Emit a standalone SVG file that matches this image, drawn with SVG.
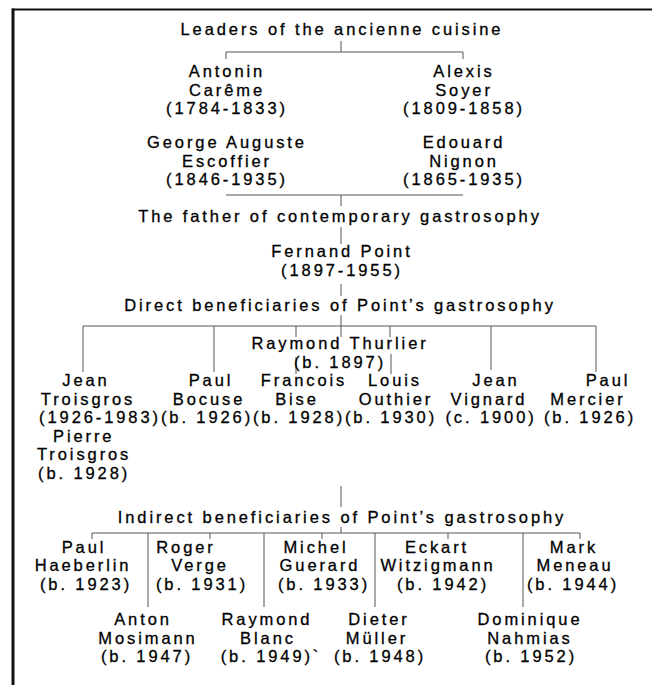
<svg xmlns="http://www.w3.org/2000/svg" width="652" height="685" viewBox="0 0 652 685">
<style>
text{font-family:"Liberation Sans",Arial,sans-serif;font-size:16.5px;fill:#000;stroke:#000;stroke-width:0.3px;letter-spacing:2.9px;text-anchor:middle}
.l{text-anchor:start}
.c line{stroke:#555;stroke-width:1}
</style>
<rect width="652" height="685" fill="#fff"/>
<g id="frame">
<line x1="12" y1="9.5" x2="652" y2="9.5" stroke="#111" stroke-width="2"/>
<line x1="13" y1="8.5" x2="13" y2="685" stroke="#111" stroke-width="3"/>
</g>
<g class="c" id="connectors">
<line x1="341" y1="41" x2="341" y2="52"/>
<line x1="226" y1="52" x2="463" y2="52"/>
<line x1="226" y1="52" x2="226" y2="59"/>
<line x1="463" y1="52" x2="463" y2="59"/>
<line x1="226" y1="195" x2="463" y2="195"/>
<line x1="341" y1="195" x2="341" y2="206"/>
<line x1="341" y1="227" x2="341" y2="244"/>
<line x1="341" y1="284" x2="341" y2="296"/>
<line x1="83" y1="326" x2="596" y2="326"/>
<line x1="341" y1="315" x2="341" y2="337"/>
<line x1="83" y1="326" x2="83" y2="372"/>
<line x1="214" y1="326" x2="214" y2="372"/>
<line x1="296" y1="326" x2="296" y2="337"/>
<line x1="296" y1="357" x2="296" y2="374"/>
<line x1="390" y1="326" x2="390" y2="337"/>
<line x1="391" y1="354" x2="391" y2="374"/>
<line x1="491" y1="326" x2="491" y2="370"/>
<line x1="596" y1="326" x2="596" y2="372"/>
<line x1="341" y1="486" x2="341" y2="507"/>
<line x1="341" y1="527" x2="341" y2="533"/>
<line x1="92" y1="533" x2="580" y2="533"/>
<line x1="92" y1="533" x2="92" y2="539"/>
<line x1="210" y1="533" x2="210" y2="539"/>
<line x1="322" y1="533" x2="322" y2="539"/>
<line x1="448" y1="533" x2="448" y2="539"/>
<line x1="580" y1="533" x2="580" y2="539"/>
<line x1="148" y1="533" x2="148" y2="607"/>
<line x1="264" y1="533" x2="264" y2="607"/>
<line x1="375" y1="533" x2="375" y2="607"/>
<line x1="523" y1="533" x2="523" y2="607"/>
</g>
<g id="leaders"><text x="342" y="35">Leaders of the ancienne cuisine</text></g>
<g id="careme"><text x="227" y="77">Antonin</text><text x="227" y="95.5">Carême</text><text x="227" y="114">(1784-1833)</text></g>
<g id="soyer"><text x="464" y="77">Alexis</text><text x="464" y="95.5">Soyer</text><text x="464" y="114">(1809-1858)</text></g>
<g id="escoffier"><text x="227" y="148">George Auguste</text><text x="227" y="166.5">Escoffier</text><text x="227" y="185">(1846-1935)</text></g>
<g id="nignon"><text x="464" y="148">Edouard</text><text x="464" y="166.5">Nignon</text><text x="464" y="185">(1865-1935)</text></g>
<g id="father"><text x="340" y="222">The father of contemporary gastrosophy</text></g>
<g id="point"><text x="342" y="257">Fernand Point</text><text x="342" y="275.5">(1897-1955)</text></g>
<g id="direct"><text x="340" y="311">Direct beneficiaries of Point’s gastrosophy</text></g>
<g id="thurlier"><text x="340" y="349">Raymond Thurlier</text><text x="340" y="367.5">(b. 1897)</text></g>
<g id="jtroisgros"><text x="86" y="386">Jean</text><text x="88" y="404.5">Troisgros</text><text x="100" y="423">(1926-1983)</text></g>
<g id="ptroisgros"><text class="l" x="53" y="441.5">Pierre</text><text class="l" x="37" y="460">Troisgros</text><text class="l" x="38" y="478.5">(b. 1928)</text></g>
<g id="bocuse"><text x="211" y="386">Paul</text><text x="209" y="404.5">Bocuse</text><text x="207" y="423">(b. 1926)</text></g>
<g id="bise"><text x="304" y="386">Francois</text><text x="297" y="404.5">Bise</text><text x="299" y="423">(b. 1928)</text></g>
<g id="outhier"><text x="395" y="386">Louis</text><text x="396" y="404.5">Outhier</text><text x="391" y="423">(b. 1930)</text></g>
<g id="vignard"><text x="496" y="386">Jean</text><text x="489" y="404.5">Vignard</text><text x="491" y="423">(c. 1900)</text></g>
<g id="mercier"><text x="608" y="386">Paul</text><text x="588" y="404.5">Mercier</text><text x="590" y="423">(b. 1926)</text></g>
<g id="indirect"><text x="342" y="523">Indirect beneficiaries of Point’s gastrosophy</text></g>
<g id="haeberlin"><text x="84" y="552.5">Paul</text><text x="83" y="571">Haeberlin</text><text x="86" y="589.5">(b. 1923)</text></g>
<g id="verge"><text x="186" y="552.5">Roger</text><text x="200" y="571">Verge</text><text x="202" y="589.5">(b. 1931)</text></g>
<g id="guerard"><text x="316" y="552.5">Michel</text><text x="320" y="571">Guerard</text><text x="324" y="589.5">(b. 1933)</text></g>
<g id="witzigmann"><text x="437" y="552.5">Eckart</text><text x="438" y="571">Witzigmann</text><text x="443" y="589.5">(b. 1942)</text></g>
<g id="meneau"><text x="574" y="552.5">Mark</text><text x="575" y="571">Meneau</text><text x="573" y="589.5">(b. 1944)</text></g>
<g id="mosimann"><text x="143" y="625">Anton</text><text x="148" y="643.5">Mosimann</text><text x="147" y="662">(b. 1947)</text></g>
<g id="blanc"><text x="267" y="625">Raymond</text><text x="268" y="643.5">Blanc</text><text x="271" y="662">(b. 1949)`</text></g>
<g id="muller"><text x="379" y="625">Dieter</text><text x="377" y="643.5">Müller</text><text x="380" y="662">(b. 1948)</text></g>
<g id="nahmias"><text x="530" y="625">Dominique</text><text x="530" y="643.5">Nahmias</text><text x="531" y="662">(b. 1952)</text></g>
</svg>
